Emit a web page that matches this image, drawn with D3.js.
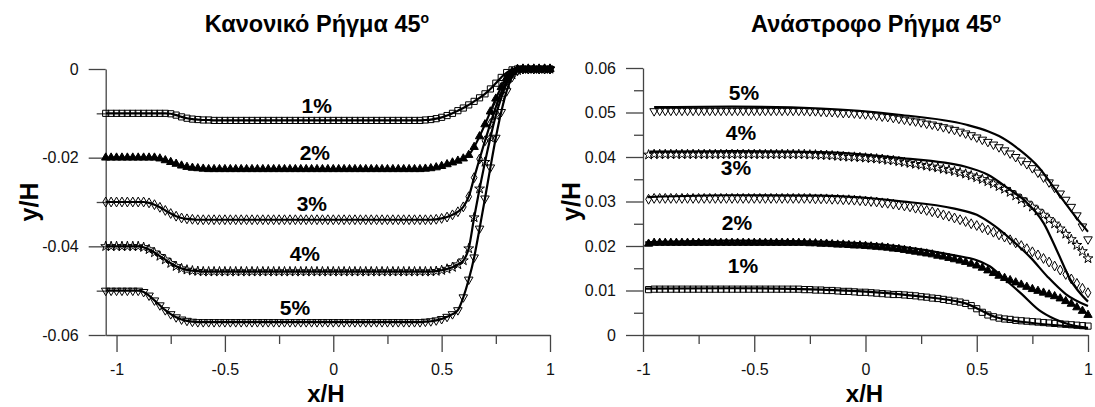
<!DOCTYPE html>
<html lang="el">
<head>
<meta charset="utf-8">
<title>Κανονικό / Ανάστροφο Ρήγμα 45ο</title>
<script src="https://cdn.jsdelivr.net/npm/d3@7"></script>
<style>
    body { margin: 0; background: #fff; }
    text { font-family: "Liberation Sans", Arial, sans-serif; }
</style>
</head>
<body>
<script>
// ---------- data ----------
var seriesNames = ["1%", "2%", "3%", "4%", "5%"];

// left panel: x positions of the markers
var leftX = [-1.05,-1.025,-1,-0.975,-0.95,-0.925,-0.9,-0.875,-0.85,-0.825,-0.8,-0.775,-0.75,-0.725,-0.7,-0.675,-0.65,-0.625,-0.6,-0.575,
    -0.55,-0.525,-0.5,-0.475,-0.45,-0.425,-0.4,-0.375,-0.35,-0.325,-0.3,-0.275,-0.25,-0.225,-0.2,-0.175,-0.15,-0.125,-0.1,-0.075,
    -0.05,-0.025,0,0.025,0.05,0.075,0.1,0.125,0.15,0.175,0.2,0.225,0.25,0.275,0.3,0.325,0.35,0.375,0.4,0.425,
    0.45,0.475,0.5,0.525,0.55,0.575,0.6,0.625,0.65,0.675,0.7,0.725,0.75,0.775,0.8,0.825,0.85,0.875,0.9,0.925,
    0.95,0.975,1];

var left1 = [-0.01,-0.01,-0.01,-0.01,-0.01,-0.01,-0.01,-0.01,-0.01,-0.01,-0.01,-0.01,
    -0.0101,-0.0104,-0.0108,-0.0111,-0.0113,-0.0114,-0.0115,-0.0115,
    -0.0116,-0.0116,-0.0116,-0.0116,-0.0116,-0.0116,-0.0116,-0.0116,-0.0116,-0.0116,
    -0.0116,-0.0116,-0.0116,-0.0116,-0.0116,-0.0116,-0.0116,-0.0116,-0.0116,-0.0116,
    -0.0116,-0.0116,-0.0116,-0.0116,-0.0116,-0.0116,-0.0116,-0.0116,-0.0116,-0.0116,
    -0.0116,-0.0116,-0.0116,-0.0116,-0.0116,-0.0116,-0.0116,-0.0116,-0.0116,
    -0.0115,-0.0114,-0.0112,-0.0109,-0.0105,-0.01,-0.0094,-0.0088,-0.0081,-0.0073,-0.0065,-0.0056,-0.0045,-0.0032,-0.0019,-0.0008,-0.0002,
    0,0,0,0,0,0,0];

var left2 = [-0.02,-0.02,-0.02,-0.02,-0.02,-0.02,-0.02,-0.02,-0.02,-0.02,
    -0.0202,-0.0206,-0.021,-0.0214,-0.0218,-0.0221,-0.0223,-0.0224,-0.0225,
    -0.0226,-0.0226,-0.0226,-0.0226,-0.0226,-0.0226,-0.0226,-0.0226,-0.0226,-0.0226,
    -0.0226,-0.0226,-0.0226,-0.0226,-0.0226,-0.0226,-0.0226,-0.0226,-0.0226,-0.0226,
    -0.0226,-0.0226,-0.0226,-0.0226,-0.0226,-0.0226,-0.0226,-0.0226,-0.0226,-0.0226,
    -0.0226,-0.0226,-0.0226,-0.0226,-0.0226,-0.0226,-0.0226,-0.0226,-0.0226,-0.0226,
    -0.0225,-0.0224,-0.0222,-0.0219,-0.0215,-0.0211,-0.0207,-0.0202,-0.0194,-0.0176,-0.0152,-0.0125,-0.0096,-0.0067,-0.0041,-0.002,-0.0006,
    0,0,0,0,0,0,0];

var left3 = [-0.03,-0.03,-0.03,-0.03,-0.03,-0.03,-0.03,-0.03,
    -0.0302,-0.0306,-0.0312,-0.0319,-0.0326,-0.0332,-0.0336,-0.0338,-0.0339,
    -0.034,-0.034,-0.034,-0.034,-0.034,-0.034,-0.034,-0.034,-0.034,-0.034,
    -0.034,-0.034,-0.034,-0.034,-0.034,-0.034,-0.034,-0.034,-0.034,-0.034,
    -0.034,-0.034,-0.034,-0.034,-0.034,-0.034,-0.034,-0.034,-0.034,-0.034,
    -0.034,-0.034,-0.034,-0.034,-0.034,-0.034,-0.034,-0.034,-0.034,-0.034,
    -0.034,-0.034,-0.034,-0.034,
    -0.0339,-0.0337,-0.0334,-0.0329,-0.0322,-0.0311,-0.0288,-0.0245,-0.0203,-0.0162,-0.0123,-0.0086,-0.0053,-0.0027,-0.001,-0.0002,
    0,0,0,0,0,0];

var left4 = [-0.04,-0.04,-0.04,-0.04,-0.04,-0.04,-0.04,
    -0.0402,-0.0407,-0.0414,-0.0422,-0.043,-0.0438,-0.0445,-0.045,-0.0453,-0.0455,-0.0456,
    -0.0457,-0.0457,-0.0457,-0.0457,-0.0457,-0.0457,-0.0457,-0.0457,-0.0457,-0.0457,
    -0.0457,-0.0457,-0.0457,-0.0457,-0.0457,-0.0457,-0.0457,-0.0457,-0.0457,-0.0457,
    -0.0457,-0.0457,-0.0457,-0.0457,-0.0457,-0.0457,-0.0457,-0.0457,-0.0457,-0.0457,
    -0.0457,-0.0457,-0.0457,-0.0457,-0.0457,-0.0457,-0.0457,-0.0457,-0.0457,-0.0457,
    -0.0457,-0.0457,-0.0457,
    -0.0456,-0.0454,-0.0451,-0.0447,-0.0441,-0.0432,-0.0405,-0.0335,-0.027,-0.021,-0.0155,-0.0105,-0.0065,-0.0033,-0.0013,-0.0003,
    0,0,0,0,0,0];

var left5 = [-0.05,-0.05,-0.05,-0.05,-0.05,-0.05,-0.05,
    -0.0503,-0.0511,-0.0522,-0.0533,-0.0544,-0.0553,-0.056,-0.0565,-0.0568,-0.057,
    -0.0571,-0.0571,-0.0571,-0.0571,-0.0571,-0.0571,-0.0571,-0.0571,-0.0571,-0.0571,
    -0.0571,-0.0571,-0.0571,-0.0571,-0.0571,-0.0571,-0.0571,-0.0571,-0.0571,-0.0571,
    -0.0571,-0.0571,-0.0571,-0.0571,-0.0571,-0.0571,-0.0571,-0.0571,-0.0571,-0.0571,
    -0.0571,-0.0571,-0.0571,-0.0571,-0.0571,-0.0571,-0.0571,-0.0571,-0.0571,-0.0571,
    -0.0571,-0.0571,
    -0.057,-0.0569,-0.0567,-0.0564,-0.0559,-0.0553,-0.0544,-0.0515,-0.0475,-0.0425,-0.036,-0.0292,-0.0222,-0.0155,-0.0097,-0.005,-0.0018,-0.0004,
    0,0,0,0,0,0];

// right panel: x positions of the markers
var rightX = [-0.975,-0.95,-0.925,-0.9,-0.875,-0.85,-0.825,-0.8,-0.775,-0.75,-0.725,-0.7,-0.675,-0.65,-0.625,-0.6,-0.575,-0.55,-0.525,-0.5,
    -0.475,-0.45,-0.425,-0.4,-0.375,-0.35,-0.325,-0.3,-0.275,-0.25,-0.225,-0.2,-0.175,-0.15,-0.125,-0.1,-0.075,-0.05,-0.025,0,
    0.025,0.05,0.075,0.1,0.125,0.15,0.175,0.2,0.225,0.25,0.275,0.3,0.325,0.35,0.375,0.4,0.425,0.45,0.475,0.5,
    0.525,0.55,0.575,0.6,0.625,0.65,0.675,0.7,0.725,0.75,0.775,0.8,0.825,0.85,0.875,0.9,0.925,0.95,0.975,1];

var right1 = [0.0102,
    0.0103,0.0103,0.0103,0.0103,0.0103,0.0103,0.0103,0.0103,0.0103,0.0103,
    0.0103,0.0103,0.0103,0.0103,0.0103,0.0103,0.0103,0.0103,0.0103,0.0103,
    0.0103,0.0103,0.0103,0.0103,0.0103,0.0103,0.0103,
    0.0102,0.0102,0.0101,0.0101,0.01,0.01,0.0099,0.0098,0.0098,0.0097,0.0096,0.0096,0.0095,0.0094,0.0093,0.0092,0.0091,0.0091,0.009,0.0089,
    0.0088,0.0086,0.0085,0.0083,0.0082,0.008,0.0078,0.0076,0.0074,0.0071,0.0066,0.0059,0.0051,0.0045,0.0041,0.0038,0.0036,0.0035,0.0033,0.0032,
    0.0031,0.003,0.0029,0.0028,0.0027,0.0026,0.0025,0.0024,0.0023,0.0022,0.0021,0.002];

var right2 = [0.0205,
    0.0207,0.0207,0.0207,0.0207,0.0207,0.0207,0.0207,0.0207,0.0207,0.0207,
    0.0207,0.0207,0.0207,0.0207,0.0207,0.0207,0.0207,0.0207,0.0207,0.0207,
    0.0207,0.0207,0.0207,0.0207,0.0207,0.0207,0.0207,
    0.0207,0.0206,0.0206,0.0205,0.0205,0.0204,0.0203,0.0203,0.0202,0.0201,0.0201,0.02,0.0199,0.0198,0.0197,0.0196,0.0194,0.0193,0.0191,0.0189,
    0.0187,0.0185,0.0183,0.0181,0.0178,0.0176,0.0173,0.017,0.0167,0.0164,0.016,0.0156,0.0151,0.0145,0.0139,0.0133,0.0128,0.0123,0.0118,0.0113,
    0.0108,0.0103,0.0099,0.0095,0.0091,0.0087,0.0082,0.0076,0.007,0.0062,0.0054,0.0045];

var right3 = [0.0305,
    0.0307,0.0307,0.0307,0.0307,0.0307,0.0307,0.0307,0.0307,0.0307,0.0307,
    0.0307,0.0307,0.0307,0.0307,0.0307,0.0307,0.0307,0.0307,0.0307,0.0307,
    0.0307,0.0307,0.0307,0.0307,0.0307,0.0307,0.0307,
    0.0307,0.0307,0.0306,0.0306,0.0306,0.0305,0.0305,0.0304,0.0304,0.0303,0.0302,0.0301,0.03,0.0299,0.0297,0.0296,0.0294,0.0292,0.029,0.0288,
    0.0285,0.0283,0.028,0.0277,0.0274,0.027,0.0267,0.0263,0.0259,0.0255,0.025,0.0246,0.0241,0.0236,0.0231,0.0225,0.022,0.0214,0.0207,0.0201,
    0.0194,0.0187,0.018,0.0172,0.0164,0.0155,0.0146,0.0136,0.0126,0.0116,0.0105,0.0095];

var right4 = [0.0405,
    0.0406,0.0406,0.0406,0.0406,0.0406,0.0406,0.0406,0.0406,0.0406,0.0406,
    0.0406,0.0406,0.0406,0.0406,0.0406,0.0406,0.0406,0.0406,0.0406,0.0406,
    0.0406,0.0406,0.0406,0.0406,0.0406,0.0406,0.0406,
    0.0406,0.0405,0.0405,0.0404,0.0404,0.0403,0.0402,0.0401,0.04,0.04,0.0399,0.0398,0.0397,0.0396,0.0395,0.0393,0.0392,0.039,0.0388,0.0386,
    0.0384,0.0382,0.038,0.0378,0.0376,0.0373,0.0371,0.0368,0.0365,0.0362,0.0358,0.0354,0.035,0.0345,0.034,0.0334,0.0328,0.0321,0.0313,0.0305,
    0.0297,0.0288,0.0279,0.027,0.026,0.025,0.0239,0.0227,0.0215,0.0202,0.0188,0.0172];

var right5 = [null,
    0.0503,0.0504,0.0504,0.0504,0.0504,0.0504,0.0504,0.0504,0.0504,0.0504,
    0.0504,0.0504,0.0504,0.0504,0.0504,0.0504,0.0504,0.0504,0.0504,0.0504,
    0.0504,0.0504,0.0504,0.0504,0.0504,0.0504,0.0504,
    0.0504,0.0503,0.0503,0.0502,0.0501,0.0501,0.05,0.0499,0.0499,0.0498,0.0497,0.0496,0.0495,0.0493,0.0491,0.049,0.0488,0.0486,0.0484,0.0482,
    0.048,0.0478,0.0475,0.0473,0.047,0.0467,0.0464,0.0461,0.0457,0.0453,0.0449,0.0444,0.0439,0.0434,0.0428,0.0422,0.0415,0.0408,0.04,0.0392,
    0.0384,0.0375,0.0365,0.0354,0.0343,0.0331,0.0318,0.0304,0.0288,0.0269,0.0244,0.0215];

// right panel: computed curves [x, y]
var rightLine1 = [[-0.99,0.0104],[-0.6,0.0105],[-0.2,0.0102],[0.2,0.0089],[0.45,0.0071],[0.52,0.0055],[0.58,0.0041],[0.75,0.0027],[0.9,0.002],[1.0,0.0015]];
var rightLine2 = [[-0.99,0.0208],[-0.6,0.0212],[-0.2,0.021],[0.15,0.0199],[0.4,0.0179],[0.5,0.0168],[0.56,0.0154],[0.62,0.0128],[0.7,0.0093],[0.78,0.0056],[0.85,0.0036],[0.92,0.0023],[1.0,0.0016]];
var rightLine3 = [[-0.98,0.031],[-0.6,0.0314],[-0.2,0.0313],[0.15,0.0301],[0.4,0.0284],[0.5,0.027],[0.58,0.0245],[0.66,0.0212],[0.74,0.0175],[0.82,0.013],[0.9,0.0092],[1.0,0.0065]];
var rightLine4 = [[-0.97,0.0412],[-0.6,0.0413],[-0.2,0.0411],[0.15,0.0398],[0.45,0.0378],[0.55,0.036],[0.65,0.0326],[0.72,0.03],[0.8,0.0252],[0.86,0.019],[0.92,0.0125],[1.0,0.0075]];
var rightLine5 = [[-0.95,0.0512],[-0.6,0.0513],[-0.2,0.0509],[0.15,0.0495],[0.45,0.0473],[0.55,0.0458],[0.6,0.0447],[0.69,0.0417],[0.78,0.0376],[0.86,0.0322],[0.95,0.0262],[1.0,0.0232]];

// series label anchors (data units)
var leftLabelX = [-0.076, -0.085, -0.099, -0.131, -0.177];
var leftLabelY = [-0.0099, -0.0205, -0.032, -0.0433, -0.0555];
var rightLabelX = [-0.551, -0.578, -0.582, -0.56, -0.546];
var rightLabelY = [0.014, 0.0236, 0.036, 0.0438, 0.0528];

// ticks
var xMajor = [-1, -0.5, 0, 0.5, 1];
var xMajorLabels = ["-1", "-0.5", "0", "0.5", "1"];
var xMinor = [-0.75, -0.25, 0.25, 0.75];
var leftYMajor = [0, -0.02, -0.04, -0.06];
var leftYMajorLabels = ["0", "-0.02", "-0.04", "-0.06"];
var leftYMinor = [-0.01, -0.03, -0.05];
var rightYMajor = [0, 0.01, 0.02, 0.03, 0.04, 0.05, 0.06];
var rightYMajorLabels = ["0", "0.01", "0.02", "0.03", "0.04", "0.05", "0.06"];
var rightYMinor = [0.005, 0.015, 0.025, 0.035, 0.045, 0.055];

// ---------- drawing ----------
var svgWidth = 1095;
var svgHeight = 407;
var axisColor = "#444";

var svg = d3.select("body")
    .append("svg")
    .attr("width", svgWidth)
    .attr("height", svgHeight);

// marker shapes per series: square, filled triangle, diamond, star, down triangle
var markerTypes = [d3.symbolSquare, d3.symbolTriangle, d3.symbolDiamond, d3.symbolStar, d3.symbolTriangle];
var markerSizes = [38, 30, 28, 30, 32];
var markerFill = ["none", "#000", "none", "none", "none"];
var markerRotate = [0, 0, 0, 0, 180];

function drawPanel(p) {
    var x = d3.scaleLinear().domain(p.xDomain).range(p.xRange);
    var y = d3.scaleLinear().domain(p.yDomain).range(p.yRange);
    var g = svg.append("g");
    var yBase = p.yRange[0];

    // minor ticks
    var xm = g.append("g")
        .attr("transform", "translate(0," + yBase + ")")
        .call(d3.axisBottom(x).tickValues(xMinor).tickSize(9).tickFormat(""));
    var ym = g.append("g")
        .attr("transform", "translate(" + p.xRange[0] + ",0)")
        .call(d3.axisLeft(y).tickValues(p.yMinor).tickSize(9).tickFormat(""));
    xm.select(".domain").remove();
    ym.select(".domain").remove();

    // major axes
    g.append("g")
        .attr("transform", "translate(0," + yBase + ")")
        .call(d3.axisBottom(x).tickValues(xMajor).tickSize(17).tickSizeOuter(0).tickPadding(12)
            .tickFormat(function(d, i) { return xMajorLabels[i]; }));
    g.append("g")
        .attr("transform", "translate(" + p.xRange[0] + ",0)")
        .call(d3.axisLeft(y).tickValues(p.yMajor).tickSize(17).tickSizeOuter(0).tickPadding(10)
            .tickFormat(function(d, i) { return p.yLabels[i]; }));

    g.selectAll(".domain, .tick line").attr("stroke", axisColor).attr("stroke-width", 1.3);
    g.selectAll(".tick text")
        .attr("font-size", "16px")
        .attr("font-family", "'Liberation Sans', Arial, sans-serif")
        .attr("fill", "#111");

    // markers
    p.markers.forEach(function(ys, s) {
        var pts = p.xs.map(function(d, i) { return [d, ys[i]]; })
            .filter(function(d) { return d[1] !== null; });
        g.append("g").selectAll("path")
            .data(pts)
            .enter()
            .append("path")
            .attr("d", d3.symbol().type(markerTypes[s]).size(markerSizes[s]))
            .attr("transform", function(d) {
                return "translate(" + x(d[0]) + "," + y(d[1]) + ") rotate(" + markerRotate[s] + ")";
            })
            .attr("fill", markerFill[s])
            .attr("stroke", "#000")
            .attr("stroke-width", 1);
    });

    // lines
    var line = d3.line()
        .x(function(d) { return x(d[0]); })
        .y(function(d) { return y(d[1]); })
        .curve(d3.curveMonotoneX);
    p.lines.forEach(function(pts) {
        g.append("path")
            .attr("d", line(pts))
            .attr("fill", "none")
            .attr("stroke", "#000")
            .attr("stroke-width", 2.2);
    });

    // series labels
    seriesNames.forEach(function(name, i) {
        g.append("text")
            .attr("x", x(p.labelX[i]))
            .attr("y", y(p.labelY[i]))
            .attr("text-anchor", "middle")
            .attr("font-size", "21px")
            .attr("font-weight", "bold")
            .text(name);
    });

    // title
    var t = g.append("text")
        .attr("x", p.titleX)
        .attr("y", 32)
        .attr("text-anchor", "middle")
        .attr("font-size", "23.5px")
        .attr("font-weight", "bold");
    t.append("tspan").text(p.title);
    t.append("tspan").attr("font-size", "14px").attr("dy", -9).text("ο");

    // axis titles
    g.append("text")
        .attr("x", (p.xRange[0] + p.xRange[1]) / 2 + p.xTitleShift)
        .attr("y", 402)
        .attr("text-anchor", "middle")
        .attr("font-size", "24px")
        .attr("font-weight", "bold")
        .text("x/H");
    g.append("text")
        .attr("transform", "translate(" + p.yTitleX + "," + ((p.yRange[0] + p.yRange[1]) / 2) + ") rotate(-90)")
        .attr("text-anchor", "middle")
        .attr("font-size", "25px")
        .attr("font-weight", "bold")
        .text("y/H");
}

drawPanel({
    xDomain: [-1.05, 1], xRange: [105.7, 550],
    yDomain: [-0.06, 0], yRange: [335, 69],
    yMajor: leftYMajor, yLabels: leftYMajorLabels, yMinor: leftYMinor,
    xs: leftX,
    markers: [left1, left2, left3, left4, left5],
    lines: [left1, left2, left3, left4, left5].map(function(ys) {
        return leftX.map(function(d, i) { return [d, ys[i]]; });
    }),
    labelX: leftLabelX, labelY: leftLabelY,
    title: "Κανονικό Ρήγμα 45", titleX: 317,
    xTitleShift: -2, yTitleX: 38
});

drawPanel({
    xDomain: [-1, 1], xRange: [643, 1088],
    yDomain: [0, 0.06], yRange: [335, 68],
    yMajor: rightYMajor, yLabels: rightYMajorLabels, yMinor: rightYMinor,
    xs: rightX,
    markers: [right1, right2, right3, right4, right5],
    lines: [rightLine1, rightLine2, rightLine3, rightLine4, rightLine5],
    labelX: rightLabelX, labelY: rightLabelY,
    title: "Ανάστροφο Ρήγμα 45", titleX: 876,
    xTitleShift: -1, yTitleX: 580
});
</script>
</body>
</html>
